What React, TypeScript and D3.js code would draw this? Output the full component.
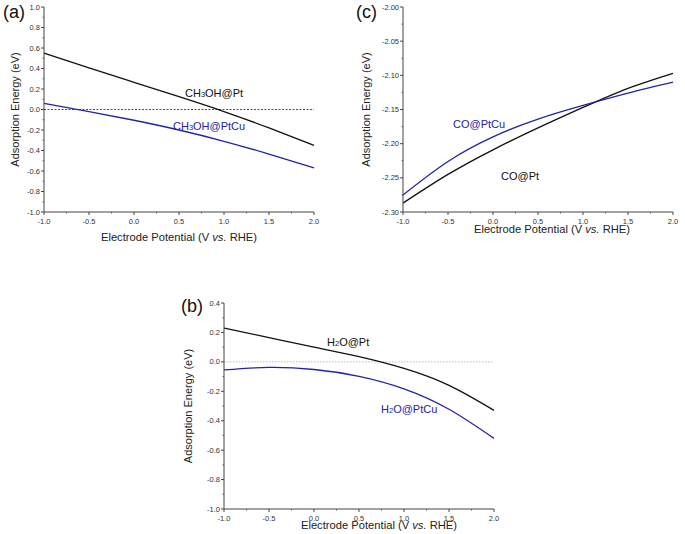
import * as d3 from 'd3';

const FONT = '"Liberation Sans", Arial, sans-serif';
const BLUE = '#2323a8';
const AXIS = '#444';

const POTENTIAL = [-1.0, -0.5, 0.0, 0.5, 1.0, 1.5, 2.0];
const X_TICKS = [-1.0, -0.5, 0.0, 0.5, 1.0, 1.5, 2.0];

// (a) methanol
const CH3OH_PT = [0.55, 0.405, 0.265, 0.125, -0.02, -0.18, -0.35];
const CH3OH_PTCU = [0.06, -0.02, -0.105, -0.20, -0.31, -0.435, -0.57];
const A_TICKS = [1.0, 0.8, 0.6, 0.4, 0.2, 0.0, -0.2, -0.4, -0.6, -0.8, -1.0];

// (c) CO
const CO_PT = [-2.287, -2.245, -2.209, -2.177, -2.147, -2.119, -2.097];
const CO_PTCU = [-2.275, -2.226, -2.190, -2.164, -2.144, -2.126, -2.110];
const C_TICKS = [-2.0, -2.05, -2.1, -2.15, -2.2, -2.25, -2.3];

// (b) water
const H2O_PT = [0.23, 0.165, 0.10, 0.035, -0.045, -0.16, -0.33];
const H2O_PTCU = [-0.055, -0.038, -0.052, -0.098, -0.183, -0.322, -0.52];
const B_TICKS = [0.4, 0.2, 0.0, -0.2, -0.4, -0.6, -0.8, -1.0];

type Series = { values: number[]; color: string };
type Note = { parts: [string, boolean][]; x: number; y: number; color: string };

type PanelProps = {
  left: number; right: number; top: number; bottom: number;
  yDomain: [number, number];
  yTicks: number[];
  yFmt: (v: number) => string;
  series: Series[];
  zero?: { color: string; dash: string };
  notes: Note[];
  tag: string;
  tagX: number; tagY: number;
  yTitleX: number;
  xTitleDx: number; xTitleDy: number;
};

function Panel(p: PanelProps) {
  const x = d3.scaleLinear().domain([-1, 2]).range([p.left, p.right]);
  const y = d3.scaleLinear().domain(p.yDomain).range([p.bottom, p.top]);
  const line = d3.line<number>()
    .x((_, i) => x(POTENTIAL[i]))
    .y((v) => y(v))
    .curve(d3.curveNatural);
  const yStep = p.yTicks[0] - p.yTicks[1];
  const yMinor = d3.range(p.yTicks.length - 1).map((i) => p.yTicks[i] - yStep / 2);
  const xMinor = d3.range(X_TICKS.length - 1).map((i) => X_TICKS[i] + 0.25);
  return (
    <g>
      {p.zero && (
        <line x1={x(-1)} x2={x(2)} y1={y(0)} y2={y(0)}
          stroke={p.zero.color} strokeWidth={0.8} strokeDasharray={p.zero.dash} />
      )}
      {p.series.map((s, i) => (
        <path key={i} d={line(s.values) ?? ''} fill="none" stroke={s.color} strokeWidth={1.3} />
      ))}
      <line x1={p.left} x2={p.left} y1={p.top} y2={p.bottom} stroke={AXIS} strokeWidth={1} />
      <line x1={p.left} x2={p.right} y1={p.bottom} y2={p.bottom} stroke={AXIS} strokeWidth={1} />
      {p.yTicks.map((t) => (
        <g key={t}>
          <line x1={p.left - 3} x2={p.left} y1={y(t)} y2={y(t)} stroke={AXIS} />
          <text x={p.left - 4} y={y(t)} dy="0.35em" textAnchor="end" fontSize={7.5} fill="#333">{p.yFmt(t)}</text>
        </g>
      ))}
      {yMinor.map((t) => (
        <line key={t} x1={p.left - 1.5} x2={p.left} y1={y(t)} y2={y(t)} stroke={AXIS} strokeWidth={0.8} />
      ))}
      {X_TICKS.map((t) => (
        <g key={t}>
          <line x1={x(t)} x2={x(t)} y1={p.bottom} y2={p.bottom + 3} stroke={AXIS} />
          <text x={x(t)} y={p.bottom + 9} dy="0.35em" textAnchor="middle" fontSize={7.5} fill="#333">{t.toFixed(1)}</text>
        </g>
      ))}
      {xMinor.map((t) => (
        <line key={t} x1={x(t)} x2={x(t)} y1={p.bottom} y2={p.bottom + 1.5} stroke={AXIS} strokeWidth={0.8} />
      ))}
      <text x={(p.left + p.right) / 2 + p.xTitleDx} y={p.bottom + p.xTitleDy} dy="0.35em"
        textAnchor="middle" fontSize={11.2} fill="#222">
        Electrode Potential (V <tspan fontStyle="italic">vs.</tspan> RHE)
      </text>
      <text transform={`translate(${p.yTitleX},${(p.top + p.bottom) / 2}) rotate(-90)`} dy="0.35em"
        textAnchor="middle" fontSize={11} fill="#222">Adsorption Energy (eV)</text>
      <text x={p.tagX} y={p.tagY} dy="0.35em" fontSize={18} fill="#111">{p.tag}</text>
      {p.notes.map((n, i) => (
        <text key={i} x={n.x} y={n.y} dy="0.35em" fontSize={11} fill={n.color}>
          {n.parts.map(([s, sub], j) =>
            sub ? <tspan key={j} fontSize={7.5}>{s}</tspan> : <tspan key={j}>{s}</tspan>)}
        </text>
      ))}
    </g>
  );
}

export default function App() {
  const f1 = (v: number) => v.toFixed(1);
  const f2 = (v: number) => v.toFixed(2);
  return (
    <svg width={685} height={534} style={{ position: 'absolute', left: 0, top: 0, fontFamily: FONT }}>
      <rect width={685} height={534} fill="#fff" />
      <Panel left={44} right={314} top={7} bottom={212} yDomain={[-1, 1]} yTicks={A_TICKS} yFmt={f1}
        series={[{ values: CH3OH_PT, color: '#111' }, { values: CH3OH_PTCU, color: BLUE }]}
        zero={{ color: '#222', dash: '2,1.5' }}
        notes={[
          { parts: [['CH', false], ['3', true], ['OH@Pt', false]], x: 185, y: 93, color: '#111' },
          { parts: [['CH', false], ['3', true], ['OH@PtCu', false]], x: 173, y: 126, color: BLUE },
        ]}
        tag="(a)" tagX={3} tagY={12} yTitleX={15} xTitleDx={0} xTitleDy={25} />
      <Panel left={403} right={673} top={7} bottom={212} yDomain={[-2.3, -2.0]} yTicks={C_TICKS} yFmt={f2}
        series={[{ values: CO_PT, color: '#111' }, { values: CO_PTCU, color: BLUE }]}
        notes={[
          { parts: [['CO@PtCu', false]], x: 453, y: 124, color: BLUE },
          { parts: [['CO@Pt', false]], x: 501, y: 176, color: '#111' },
        ]}
        tag="(c)" tagX={356} tagY={12} yTitleX={366} xTitleDx={14} xTitleDy={17} />
      <Panel left={224} right={494} top={303} bottom={509} yDomain={[-1, 0.4]} yTicks={B_TICKS} yFmt={f1}
        series={[{ values: H2O_PT, color: '#111' }, { values: H2O_PTCU, color: BLUE }]}
        zero={{ color: '#aaa', dash: '1.5,1.5' }}
        notes={[
          { parts: [['H', false], ['2', true], ['O@Pt', false]], x: 327, y: 342, color: '#111' },
          { parts: [['H', false], ['2', true], ['O@PtCu', false]], x: 381, y: 409, color: BLUE },
        ]}
        tag="(b)" tagX={181} tagY={306} yTitleX={188} xTitleDx={20} xTitleDy={16} />
    </svg>
  );
}
